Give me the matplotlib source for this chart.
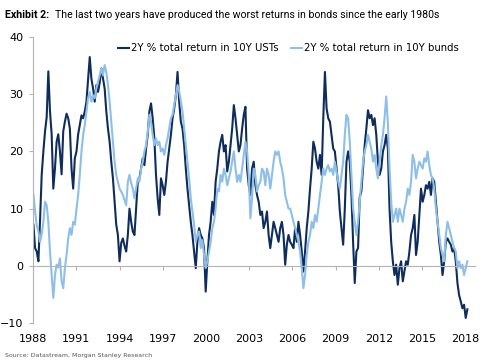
import numpy as np
import pandas as pd
import matplotlib
matplotlib.use("Agg")
import matplotlib.pyplot as plt
import matplotlib.dates as mdates

# 2Y % total return, sampled every 6 weeks from early Jan 1988
ust = [
    7.2, 3.1, 2.5, 0.8, 8, 16, 20, 23.5, 26, 34, 27, 23, 13.5, 17, 21.7, 23,
    20, 16, 23.5, 25.2, 26.6, 25.8, 24, 17, 13.5, 18.8, 20, 23, 24.6, 26.3, 25.8, 27,
    28.7, 32.7, 36.5, 32.7, 31, 28.7, 31.6, 30.4, 32, 34.5, 32.7, 31, 27, 24, 21.7, 18.2,
    15.3, 11.2, 7.2, 5.4, 0.8, 4, 4.8, 3.5, 2.5, 5.4, 10, 7.7, 6, 5.4, 10, 14.7,
    15.3, 17, 18.8, 17.6, 20.5, 22.9, 27, 28.4, 25.8, 22.3, 15.9, 11.8, 8.9, 15.3, 14.1, 12.4,
    14.7, 18.2, 20.5, 22.9, 25.8, 27.5, 29.8, 33.9, 28.7, 25.2, 24, 21.1, 17, 13.5, 10.6, 7.7,
    5.4, 2.5, -0.4, 4.2, 6.6, 5.4, 4.8, 3.1, -4.5, 0.8, 5.4, 7.7, 11.2, 8.9, 14.7, 17,
    20, 21.7, 22.9, 20, 21.1, 16.5, 18.2, 21.1, 24, 28.1, 25.8, 22.9, 20, 21.1, 24, 26.4,
    27.8, 17, 14.1, 12.4, 17, 18.2, 14.1, 12.4, 11.2, 8.9, 9.5, 6.6, 7.7, 9.5, 5.4, 3.1,
    5.4, 7.7, 6.6, 5.4, 4.2, 6.6, 7.7, 5.4, 0.2, 3.7, 5.4, 4.2, 3.7, 3.1, 6.6, 4.2,
    7.7, 5.4, 2.5, -1, 2.5, 6.6, 9.5, 13.5, 17, 21.7, 20.5, 18.2, 17, 19.4, 15.9, 25.8,
    33.9, 27.5, 25.8, 25.2, 22.9, 20.5, 20, 17, 14.1, 9.5, 6.6, 3.7, 10, 18.2, 20, 18.2,
    12.4, 4.2, -3, 2.5, 3.1, 12, 13, 17, 21.1, 24, 27.2, 25.8, 26.4, 24.6, 25.8, 22.9,
    18.2, 15.9, 17, 20, 21.1, 22.9, 20.5, 10, 4.2, 0.8, -1.6, 0.2, -3.3, -0.4, 0.8, -2.7,
    -1, 0.8, 0.2, 2.5, 5.4, 6.6, 8.9, 1.9, 4.2, 8.9, 13.5, 11.2, 12.4, 14.1, 13.5, 14.7,
    12.4, 15.3, 14.7, 11.2, 7.7, 4.2, 1.9, -1.6, 0.8, 4.2, 4.8, 4.2, 3.7, 2.5, 3.1, 0.8,
    -3, -5.1, -6.2, -7.4, -6.8, -9.1, -7.6,
]
bunds = [
    12.5, 9.5, 7, 6, 4.2, 5.5, 7.7, 11.2, 10.6, 7.7, 2.5, -1.6, -5.6, -1.6, 0.2, -0.3,
    1.3, -2.7, -3.9, -0.4, 1.9, 4.8, 6.6, 5.4, 7.7, 7.2, 10, 12.4, 15.9, 20, 22.9, 24.6,
    27, 29.3, 30.4, 28.7, 29.8, 29.3, 31, 32.2, 33.3, 34.5, 33.3, 35.1, 33.9, 31.6, 28.7, 25.2,
    21.7, 18.2, 15.9, 14.7, 13.5, 13, 12.4, 11.5, 10.6, 14.7, 15.9, 14.5, 13.5, 11.8, 13.5, 15.3,
    14.7, 17, 18.2, 20, 21.1, 23.4, 26.4, 25.2, 22.9, 21.1, 22.3, 21.1, 21.7, 20, 20.5, 19.4,
    21.1, 22.3, 24, 25.8, 26.4, 28.1, 29.8, 31.6, 30.5, 28.7, 27, 24, 21.1, 18.2, 15.3, 11.8,
    9.5, 7.2, 4.2, 5.4, 6, 3.1, 4.5, 1.9, -0.4, 0.8, 2.5, 4.2, 6.6, 7.7, 10, 13.5,
    13, 15.9, 14.7, 17, 15.9, 14.1, 15.3, 16.5, 18.2, 20, 17, 14.7, 15.9, 14.7, 17, 19.4,
    21.7, 20, 15.9, 8.3, 12, 17, 15.9, 13, 14.1, 14.7, 17, 16.5, 14.1, 17, 15.9, 13.5,
    15.9, 18.2, 20, 19.4, 20, 18.2, 17, 15.3, 12.4, 11.2, 10, 10, 8.9, 7.7, 6.6, 5.4,
    4.2, 2.5, -0.4, -3.9, -1.6, 1.9, 4.2, 5.4, 7.7, 6.6, 8.9, 7.7, 10, 12.4, 14.7, 17,
    15.9, 17, 17.6, 16.5, 17, 15.9, 18.2, 16.5, 14.7, 13.5, 15.9, 18.2, 22.9, 26.4, 25.8, 21.7,
    15.9, 10, 7.7, 5.4, 7.7, 11.2, 14.7, 18.2, 20, 21.1, 22.9, 21.7, 20.5, 18.2, 19.4, 17,
    15.3, 18.2, 21.1, 22.9, 25.8, 29.6, 25, 17, 11.2, 7.7, 8.9, 10, 7.7, 10, 8.9, 7.7,
    10, 11.2, 13.5, 12.4, 14.7, 19.4, 18.2, 15.3, 17, 18.2, 17.6, 17, 18.8, 18.2, 20, 17.6,
    15.9, 15.3, 13.5, 10, 7.7, 5.4, 3.1, 1.9, 0.8, 5.4, 7.7, 6.6, 5.4, 4.2, 3.1, 2.5,
    -0.4, 0.8, -0.4, 0.2, -1.6, -0.4, 0.8,
]
dates = pd.date_range("1988-01-09", periods=len(ust), freq="42D")
year_ticks = list(range(1988, 2019, 3))

navy = "#0f2d5c"
light = "#8dbfe9"
grey = "#b4b4b4"

fig = plt.figure(figsize=(4.87, 3.63), dpi=100)
ax = fig.add_axes([0.068, 0.110, 0.907, 0.788])

ax.plot(dates, ust, color=navy, lw=1.5, label="2Y % total return in 10Y USTs")
ax.plot(dates, bunds, color=light, lw=1.5, label="2Y % total return in 10Y bunds")

ax.set_ylim(-10, 40)
ax.set_yticks([-10, 0, 10, 20, 30, 40])
ax.set_xlim(pd.Timestamp("1988-01-01"), pd.Timestamp("2018-09-01"))
ax.set_xticks([pd.Timestamp(f"{y}-01-01") for y in year_ticks])
ax.xaxis.set_major_formatter(mdates.DateFormatter("%Y"))

for s in ["top", "right"]:
    ax.spines[s].set_visible(False)
ax.spines["left"].set_color(grey)
ax.spines["bottom"].set_color(grey)
ax.spines["bottom"].set_position(("data", 0))
ax.tick_params(axis="y", length=3, color=grey, labelsize=8, pad=4)
ax.tick_params(axis="x", length=3, color=grey, labelsize=8, pad=46)

ax.legend(loc="upper center", bbox_to_anchor=(0.578, 1.0), ncol=2, frameon=False,
          fontsize=7.3, handlelength=1.1, handletextpad=0.2, columnspacing=1.2,
          borderaxespad=0.2)

fig.text(0.010, 0.958, "Exhibit 2:", fontsize=7.7, fontweight="bold",
         family="Roboto", va="center")
fig.text(0.113, 0.958,
         "The last two years have produced the worst returns in bonds since the early 1980s",
         fontsize=7.6, family="Roboto", va="center")
fig.text(0.010, 0.022, "Source: Datastream, Morgan Stanley Research", fontsize=4.5,
         color="#555555", va="center")

fig.savefig("out.png", dpi=100)
